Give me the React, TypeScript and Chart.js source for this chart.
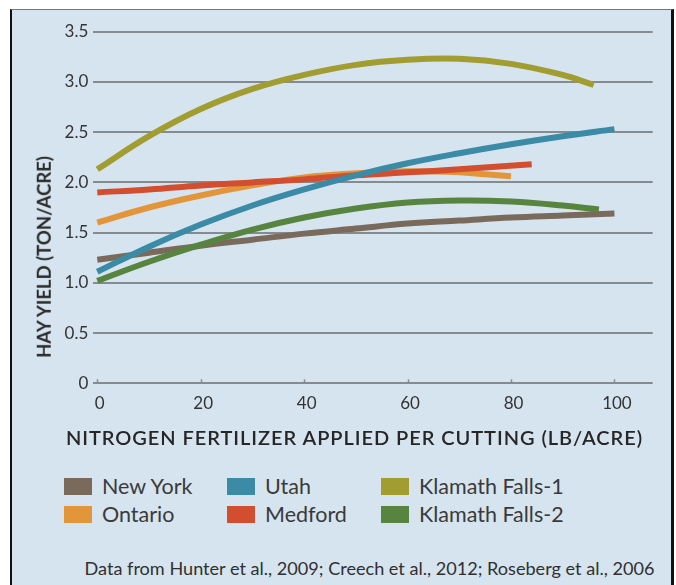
import React, { useEffect, useRef } from 'react';
import { Chart, registerables } from 'chart.js';

Chart.register(...registerables);

// ---------- data ----------
const xTickValues = [0, 20, 40, 60, 80, 100];
const yTickValues = [0, 0.5, 1, 1.5, 2, 2.5, 3, 3.5];

const seriesNames = ['New York', 'Ontario', 'Utah', 'Medford', 'Klamath Falls-1', 'Klamath Falls-2'];

const newYorkX = [0, 10, 20, 30, 40, 50, 60, 70, 80, 90, 100];
const newYorkY = [1.23, 1.3, 1.37, 1.43, 1.49, 1.54, 1.59, 1.62, 1.65, 1.67, 1.69];

const ontarioX = [0, 10, 20, 30, 40, 50, 60, 70, 75, 80];
const ontarioY = [1.6, 1.75, 1.87, 1.97, 2.05, 2.09, 2.11, 2.1, 2.08, 2.06];

const utahX = [0, 10, 20, 30, 40, 50, 60, 70, 80, 90, 100];
const utahY = [1.11, 1.36, 1.58, 1.77, 1.93, 2.07, 2.19, 2.29, 2.38, 2.46, 2.53];

const medfordX = [0, 10, 20, 30, 40, 50, 60, 70, 84];
const medfordY = [1.9, 1.93, 1.97, 2.0, 2.03, 2.07, 2.1, 2.13, 2.18];

const klamath1X = [0, 10, 20, 30, 40, 50, 60, 70, 80, 90, 96];
const klamath1Y = [2.13, 2.46, 2.73, 2.93, 3.07, 3.17, 3.22, 3.23, 3.18, 3.07, 2.97];

const klamath2X = [0, 10, 20, 30, 40, 50, 60, 70, 80, 90, 97];
const klamath2Y = [1.02, 1.21, 1.38, 1.53, 1.65, 1.74, 1.8, 1.82, 1.81, 1.77, 1.73];

const sourceText = 'Data from Hunter et al., 2009; Creech et al., 2012; Roseberg et al., 2006';
const xTitle = 'NITROGEN FERTILIZER APPLIED PER CUTTING (LB/ACRE)';
const yTitle = 'HAY YIELD (TON/ACRE)';

// ---------- styles ----------
const COLORS: Record<string, string> = {
  'New York': '#7a6a5c',
  Ontario: '#e3953a',
  Utah: '#3b8ba6',
  Medford: '#d24e2e',
  'Klamath Falls-1': '#a29d31',
  'Klamath Falls-2': '#57853f',
};
const DRAW_ORDER: Record<string, number> = {
  Utah: 0,
  Medford: 1,
  'Klamath Falls-2': 2,
  'Klamath Falls-1': 3,
  Ontario: 4,
  'New York': 5,
};
const GRID = '#868b90';
const BG = '#d6e4ef';
const FONT = 'Lato, "Open Sans", sans-serif';

const seriesX = [newYorkX, ontarioX, utahX, medfordX, klamath1X, klamath2X];
const seriesY = [newYorkY, ontarioY, utahY, medfordY, klamath1Y, klamath2Y];

const legendColumns = [
  ['New York', 'Ontario'],
  ['Utah', 'Medford'],
  ['Klamath Falls-1', 'Klamath Falls-2'],
];
const legendSwatchLeft = [64, 227, 381];
const legendTextLeft = [102, 265, 419];
const legendRowCenter = [487, 515];

const tickMarks = {
  id: 'tickMarks',
  beforeDatasetsDraw(chart: any) {
    const { ctx, chartArea } = chart;
    const xs = chart.scales.x;
    ctx.save();
    ctx.strokeStyle = GRID;
    ctx.lineWidth = 1.5;
    xs.ticks.forEach((t: any) => {
      const px = Math.round(xs.getPixelForValue(t.value)) + 0.5;
      ctx.beginPath();
      ctx.moveTo(px, chartArea.bottom);
      ctx.lineTo(px, chartArea.bottom - 4);
      ctx.stroke();
    });
    ctx.restore();
  },
};

export default function App() {
  const ref = useRef<HTMLCanvasElement | null>(null);

  useEffect(() => {
    if (!ref.current) return;
    const datasets = seriesNames.map((name, i) => ({
      label: name,
      data: seriesX[i].map((x, j) => ({ x, y: seriesY[i][j] })),
      borderColor: COLORS[name],
      backgroundColor: COLORS[name],
      borderWidth: 6,
      pointRadius: 0,
      tension: 0.4,
      fill: false,
      order: DRAW_ORDER[name],
      borderCapStyle: 'butt' as const,
    }));
    const chart = new Chart(ref.current, {
      type: 'line',
      data: { datasets },
      plugins: [tickMarks],
      options: {
        animation: false,
        responsive: false,
        maintainAspectRatio: false,
        layout: { padding: { top: 21.7, right: 17.3, left: 0, bottom: 0 } },
        plugins: { legend: { display: false }, tooltip: { enabled: false }, title: { display: false } },
        scales: {
          x: {
            type: 'linear',
            min: -0.77,
            max: 107.4,
            afterBuildTicks: (s: any) => {
              s.ticks = xTickValues.map((v) => ({ value: v }));
            },
            afterFit: (s: any) => {
              s.height = 46.7;
            },
            grid: { display: false, drawTicks: false },
            border: { display: false },
            ticks: {
              padding: 10,
              labelOffset: 2.5,
              autoSkip: false,
              maxRotation: 0,
              color: '#333333',
              font: { family: FONT, size: 17 },
            },
          },
          y: {
            type: 'linear',
            min: 0,
            max: 3.5,
            afterBuildTicks: (s: any) => {
              s.ticks = yTickValues.map((v) => ({ value: v }));
            },
            afterFit: (s: any) => {
              s.width = 83.3;
            },
            grid: { color: GRID, lineWidth: 2, drawTicks: false },
            border: { display: false },
            ticks: {
              padding: 5,
              color: '#333333',
              font: { family: FONT, size: 17 },
              callback: (v: any) => (Number(v) === 0 ? '0' : Number(v).toFixed(1)),
            },
          },
        },
      },
    });
    return () => chart.destroy();
  }, []);

  return (
    <div style={{ position: 'absolute', left: 0, top: 0, width: 676, height: 585, overflow: 'hidden', background: '#ffffff', fontFamily: FONT }}>
      <div
        style={{
          position: 'absolute',
          left: 10,
          top: 9,
          width: 664,
          height: 600,
          boxSizing: 'border-box',
          background: BG,
          borderTop: '1px solid #777',
          borderLeft: '2px solid #111',
          borderRight: '3px solid #111',
        }}
      />
      <canvas ref={ref} width={660} height={420} style={{ position: 'absolute', left: 10, top: 10, width: 660, height: 420 }} />
      <div
        style={{
          position: 'absolute',
          left: 44,
          top: 257,
          transform: 'translate(-50%, -50%) rotate(-90deg)',
          whiteSpace: 'nowrap',
          fontWeight: 700,
          fontSize: 18.5,
          lineHeight: 1,
          color: '#2a2a2a',
        }}
      >
        {yTitle}
      </div>
      <div
        style={{
          position: 'absolute',
          left: 354.5,
          top: 437,
          transform: 'translate(-50%, -50%)',
          whiteSpace: 'nowrap',
          fontWeight: 600,
          fontSize: 20,
          letterSpacing: 0.95,
          lineHeight: 1,
          color: '#262626',
        }}
      >
        {xTitle}
      </div>
      {legendColumns.map((col, c) =>
        col.map((name, r) => (
          <React.Fragment key={name}>
            <div
              style={{
                position: 'absolute',
                left: legendSwatchLeft[c],
                top: legendRowCenter[r] - 9,
                width: 28,
                height: 17,
                background: COLORS[name],
              }}
            />
            <div
              style={{
                position: 'absolute',
                left: legendTextLeft[c],
                top: legendRowCenter[r],
                transform: 'translateY(-50%)',
                whiteSpace: 'nowrap',
                fontSize: 21.5,
                lineHeight: 1,
                color: '#3a3a3a',
              }}
            >
              {name}
            </div>
          </React.Fragment>
        ))
      )}
      <div
        style={{
          position: 'absolute',
          left: 369.5,
          top: 568,
          transform: 'translate(-50%, -50%)',
          whiteSpace: 'nowrap',
          fontSize: 18.1,
          lineHeight: 1,
          color: '#303030',
        }}
      >
        {sourceText}
      </div>
    </div>
  );
}
